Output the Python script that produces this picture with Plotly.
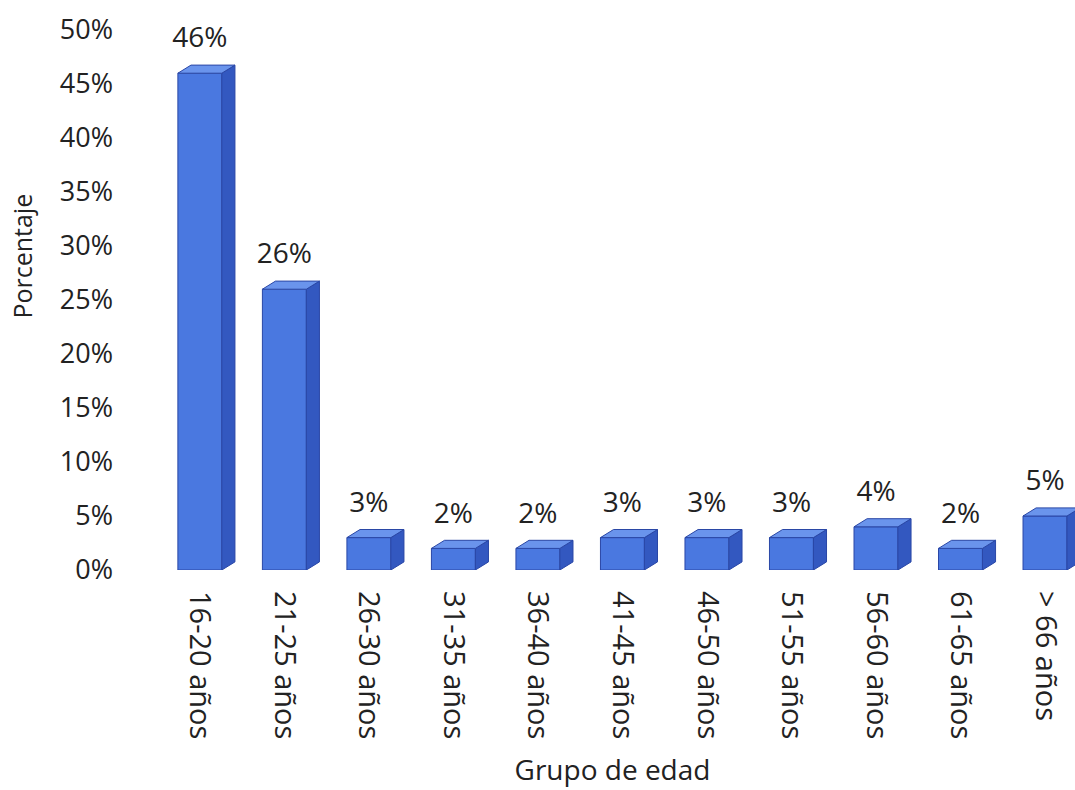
import plotly.graph_objects as go

categories = ["16-20 años", "21-25 años", "26-30 años", "31-35 años", "36-40 años",
              "41-45 años", "46-50 años", "51-55 años", "56-60 años", "61-65 años", "> 66 años"]
values = [46, 26, 3, 2, 2, 3, 3, 3, 4, 2, 5]
y_ticks = [0, 5, 10, 15, 20, 25, 30, 35, 40, 45, 50]
y_ticktext = [f"{t}%" for t in y_ticks]

FONT = "Open Sans"
TXT = "#222222"
FRONT = "#4a78e0"
SIDE = "#3358c0"
TOP = "#6a94ec"
EDGE = "#2a47a6"

w = 0.52      # front width (category units)
dx = 0.155    # depth offset x
dy = 0.75     # depth offset y (percent units)
label_gap = 1.0

xs = list(range(len(categories)))

side_x, side_y, top_x, top_y = [], [], [], []
for i, v in zip(xs, values):
    r = i + w / 2
    l = i - w / 2
    side_x += [r, r + dx, r + dx, r, r, None]
    side_y += [0, dy, v + dy, v, 0, None]
    top_x += [l, l + dx, r + dx, r, l, None]
    top_y += [v, v + dy, v + dy, v, v, None]

fig = go.Figure()
fig.add_trace(go.Scatter(x=side_x, y=side_y, mode="lines", fill="toself",
                         fillcolor=SIDE, line=dict(color=EDGE, width=1),
                         hoverinfo="skip", showlegend=False))
fig.add_trace(go.Bar(x=xs, y=values, width=w, marker=dict(color=FRONT, line=dict(color=EDGE, width=1)),
                     showlegend=False))
fig.add_trace(go.Scatter(x=top_x, y=top_y, mode="lines", fill="toself",
                         fillcolor=TOP, line=dict(color=EDGE, width=1),
                         hoverinfo="skip", showlegend=False))
fig.add_trace(go.Scatter(x=xs, y=[v + dy + label_gap for v in values], mode="text",
                         text=[f"{v}%" for v in values], textposition="top center",
                         textfont=dict(family=FONT, size=28, color=TXT),
                         hoverinfo="skip", showlegend=False, cliponaxis=False))

fig.update_layout(
    width=1075, height=790,
    margin=dict(l=150, r=0, t=30, b=220),
    paper_bgcolor="white", plot_bgcolor="white",
    font=dict(family=FONT, size=27, color=TXT),
    xaxis=dict(range=[-0.59, 10.355], tickmode="array", tickvals=xs, ticktext=categories,
               tickangle=90, showgrid=False, zeroline=False, showline=False, ticks="",
               ticklabelstandoff=20,
               tickfont=dict(family=FONT, size=29, color=TXT),
               title=dict(text="Grupo de edad", standoff=22,
                          font=dict(family=FONT, size=28, color=TXT))),
    yaxis=dict(range=[0, 50], tickmode="array", tickvals=y_ticks, ticktext=y_ticktext,
               showgrid=False, zeroline=False, showline=False, ticks="",
               ticklabelstandoff=36,
               tickfont=dict(family=FONT, size=27, color=TXT)),
    annotations=[dict(text="Porcentaje", xref="paper", yref="paper", x=-0.138, y=0.581,
                      xanchor="center", yanchor="middle",
                      textangle=-90, showarrow=False,
                      font=dict(family=FONT, size=25, color=TXT))],
)

fig.write_html("out.html")
